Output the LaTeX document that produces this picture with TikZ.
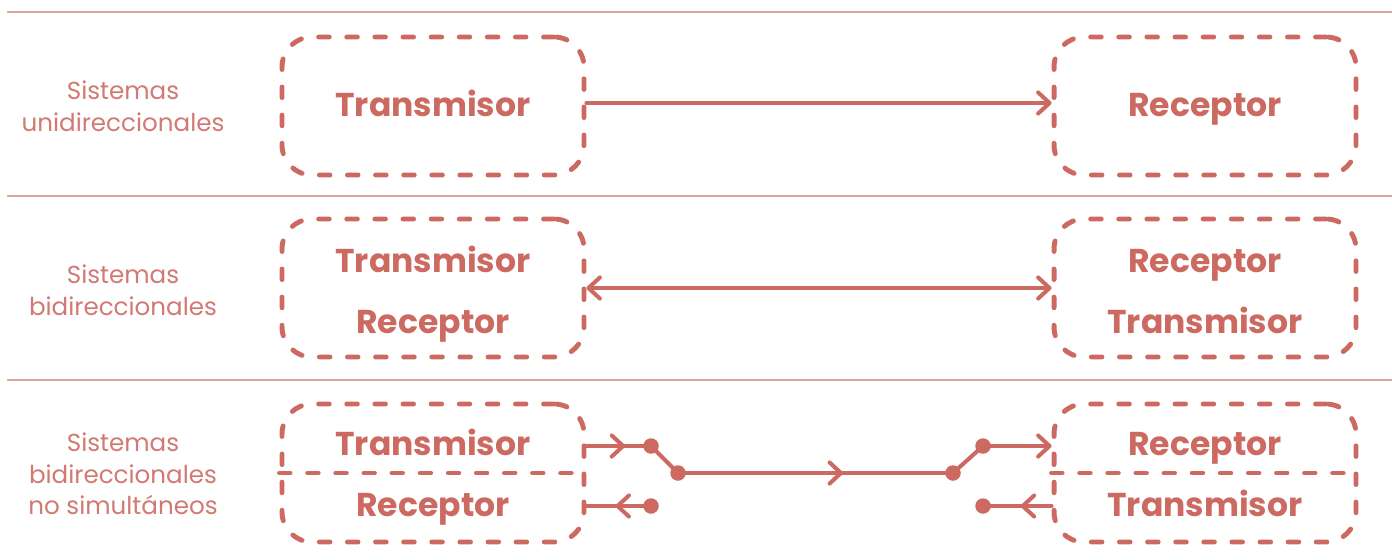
\documentclass[tikz,border=0pt]{standalone}
\usepackage{fontspec}
\setmainfont{Poppins}
\definecolor{sysred}{RGB}{204,106,98}
\definecolor{syslight}{RGB}{226,163,154}
\usetikzlibrary{arrows.meta,positioning,decorations.markings}

\begin{document}
\begin{tikzpicture}[x=0.02cm, y=-0.02cm,
  sysbox/.style={draw=sysred, line width=2.8pt, dash pattern=on 6pt off 10pt, line cap=round, rounded corners=17pt, minimum width=6.04cm, minimum height=2.76cm},
  divline/.style={draw=sysred, line width=2.8pt, dash pattern=on 6pt off 10pt, line cap=round},
  boxtxt/.style={font=\fontsize{18.8}{22}\selectfont\bfseries, text=sysred, anchor=base},
  rowlbl/.style={font=\fontsize{14}{18}\selectfont, text=sysred!90, align=center},
  sep/.style={draw=syslight, line width=1.6pt},
  link/.style={draw=sysred, line width=2.3pt, line cap=round},
  dot/.style={circle, fill=sysred, inner sep=0pt, minimum size=0.31cm},
  chev/.tip={Straight Barb[length=6.5pt, width=12pt, line cap=round, line join=round]},
  midtip/.style={postaction={decorate}, decoration={markings, mark=at position #1 with {\arrow{chev}}}}
]
  \useasboundingbox (0,0) rectangle (1392,559);

  %% Separator rules
  \draw[sep] (7,12) -- (1392,12);
  \draw[sep] (7,196) -- (1392,196);
  \draw[sep] (7,380) -- (1392,380);

  %% Row: unidirectional
  \node[rowlbl] (lbl1) at (123,106) {Sistemas\\unidireccionales};
  \node[sysbox] (b1l) at (433,106) {};
  \node[sysbox] (b1r) at (1205,106) {};
  \node[boxtxt] (t1l) at (433,116) {Transmisor};
  \node[boxtxt] (t1r) at (1205,116) {Receptor};
  \draw[link, -chev] (b1l.east |- 0,103) -- (b1r.west |- 0,103);

  %% Row: bidirectional
  \node[rowlbl] (lbl2) at (123,290) {Sistemas\\bidireccionales};
  \node[sysbox] (b2l) at (433,288) {};
  \node[sysbox] (b2r) at (1205,288) {};
  \node[boxtxt] (t2la) at (433,272) {Transmisor};
  \node[boxtxt] (t2lb) at (433,333) {Receptor};
  \node[boxtxt] (t2ra) at (1205,272) {Receptor};
  \node[boxtxt] (t2rb) at (1205,333) {Transmisor};
  \draw[link, chev-chev] (b2l.east) -- (b2r.west);

  %% Row: half duplex
  \node[rowlbl] (lbl3) at (123,474) {Sistemas\\bidireccionales\\no simultáneos};
  \node[sysbox] (b3l) at (433,473) {};
  \node[sysbox] (b3r) at (1205,473) {};
  \draw[divline] (b3l.west) -- (b3l.east);
  \draw[divline] (b3r.west) -- (b3r.east);
  \node[boxtxt] (t3la) at (433,455) {Transmisor};
  \node[boxtxt] (t3lb) at (433,516) {Receptor};
  \node[boxtxt] (t3ra) at (1205,455) {Receptor};
  \node[boxtxt] (t3rb) at (1205,516) {Transmisor};

  %% Switch contacts
  \node[dot] (sa) at (651,446) {};
  \node[dot] (sb) at (678,473) {};
  \node[dot] (sc) at (953,473) {};
  \node[dot] (sd) at (983,446) {};
  \node[dot] (se) at (651,506) {};
  \node[dot] (sf) at (983,506) {};
  \draw[link, midtip=0.6] (b3l.east |- sa) -- (sa.center);
  \draw[link] (sa.center) -- (sb.center);
  \draw[link, midtip=0.6] (sb.center) -- (sc.center);
  \draw[link] (sc.center) -- (sd.center);
  \draw[link, -chev] (sd.center) -- (b3r.west |- sd);
  \draw[link, midtip=0.55] (se.center) -- (b3l.east |- se);
  \draw[link, midtip=0.45] (b3r.west |- sf) -- (sf.center);
\end{tikzpicture}
\end{document}
